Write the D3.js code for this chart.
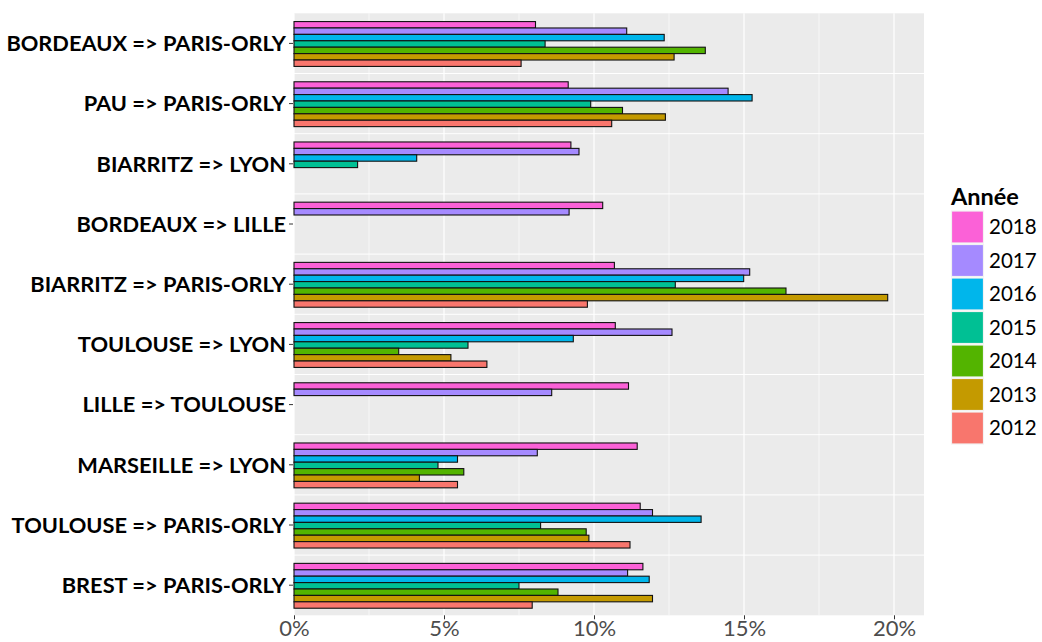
<!DOCTYPE html>
<html>
<head>
<meta charset="utf-8">
<script src="https://cdn.jsdelivr.net/npm/d3@7/dist/d3.min.js"></script>
<style>
  html, body { margin: 0; padding: 0; background: #fff; }
  svg { display: block; }
</style>
</head>
<body>
<svg id="chart" width="1042" height="642"></svg>
<script>
// ---- Data ----
const categories = [
  "BORDEAUX => PARIS-ORLY", "PAU => PARIS-ORLY", "BIARRITZ => LYON",
  "BORDEAUX => LILLE", "BIARRITZ => PARIS-ORLY", "TOULOUSE => LYON",
  "LILLE => TOULOUSE", "MARSEILLE => LYON", "TOULOUSE => PARIS-ORLY",
  "BREST => PARIS-ORLY"
];
const years = ["2018", "2017", "2016", "2015", "2014", "2013", "2012"];
const v2018 = [8.05, 9.14, 9.23, 10.29, 10.68, 10.71, 11.15, 11.44, 11.54, 11.63];
const v2017 = [11.09, 14.47, 9.50, 9.17, 15.19, 12.60, 8.59, 8.11, 11.95, 11.12];
const v2016 = [12.34, 15.27, 4.09, null, 14.99, 9.31, null, 5.45, 13.57, 11.84];
const v2015 = [8.37, 9.89, 2.12, null, 12.71, 5.80, null, 4.80, 8.22, 7.50];
const v2014 = [13.71, 10.95, null, null, 16.40, 3.49, null, 5.66, 9.74, 8.80];
const v2013 = [12.67, 12.38, null, null, 19.79, 5.23, null, 4.18, 9.83, 11.95];
const v2012 = [7.57, 10.59, null, null, 9.78, 6.43, null, 5.45, 11.20, 7.94];
const xTicks = [0, 5, 10, 15, 20];
const xMinor = [2.5, 7.5, 12.5, 17.5];
const legendTitle = "Année";

const seriesByYear = { "2018": v2018, "2017": v2017, "2016": v2016, "2015": v2015,
                       "2014": v2014, "2013": v2013, "2012": v2012 };
const colors = { "2018": "#FB61D7", "2017": "#A58AFF", "2016": "#00B6EB", "2015": "#00C094",
                 "2014": "#53B400", "2013": "#C49A00", "2012": "#F8766D" };

const rows = [];
categories.forEach((c, i) => {
  years.forEach(y => {
    const v = seriesByYear[y][i];
    if (v != null) rows.push({ cat: c, year: y, value: v });
  });
});

// ---- Layout ----
const svg = d3.select("#chart");
const panel = { left: 294, right: 924, top: 13.3, bottom: 615.3 };

const x = d3.scaleLinear().domain([0, 21]).range([panel.left, panel.right]);
const y = d3.scaleBand().domain(categories).range([panel.top, panel.bottom]).padding(0);
const groupW = y.bandwidth() * 0.745;
const yInner = d3.scaleBand().domain(years).range([0, groupW]).padding(0);

// panel background
svg.append("rect")
  .attr("x", panel.left).attr("y", panel.top)
  .attr("width", panel.right - panel.left).attr("height", panel.bottom - panel.top)
  .attr("fill", "#EBEBEB");

// minor vertical grid
svg.append("g").selectAll("line").data(xMinor).join("line")
  .attr("x1", d => x(d)).attr("x2", d => x(d))
  .attr("y1", panel.top).attr("y2", panel.bottom)
  .attr("stroke", "#fff").attr("stroke-width", 0.6);

// major vertical grid
svg.append("g").selectAll("line").data(xTicks).join("line")
  .attr("x1", d => x(d)).attr("x2", d => x(d))
  .attr("y1", panel.top).attr("y2", panel.bottom)
  .attr("stroke", "#fff").attr("stroke-width", 1.2);

// horizontal lines between categories
svg.append("g").selectAll("line").data(categories.slice(1)).join("line")
  .attr("x1", panel.left).attr("x2", panel.right)
  .attr("y1", d => y(d)).attr("y2", d => y(d))
  .attr("stroke", "#fff").attr("stroke-width", 1);

// bars
const offset = (y.bandwidth() - groupW) / 2 + 0.6;
svg.append("g").selectAll("rect").data(rows).join("rect")
  .attr("x", x(0))
  .attr("y", d => y(d.cat) + offset + yInner(d.year))
  .attr("width", d => x(d.value) - x(0))
  .attr("height", yInner.bandwidth())
  .attr("fill", d => colors[d.year])
  .attr("stroke", "#111").attr("stroke-width", 1.1);

// y axis
const yAxis = d3.axisLeft(y).tickSize(4).tickPadding(3);
const gy = svg.append("g").attr("transform", `translate(${panel.left - 1},0)`).call(yAxis);
gy.select(".domain").remove();
gy.selectAll(".tick line").attr("stroke", "#333").attr("stroke-width", 1);
gy.selectAll(".tick text")
  .attr("fill", "#000")
  .attr("dy", "0.36em")
  .style("font-family", "Lato, 'Open Sans', sans-serif")
  .style("font-weight", "bold")
  .style("font-size", "21.8px");

// x axis
const xAxis = d3.axisBottom(x).tickValues(xTicks).tickFormat(d => d + "%").tickSize(4).tickPadding(1);
const gx = svg.append("g").attr("transform", `translate(0,${panel.bottom})`).call(xAxis);
gx.select(".domain").remove();
gx.selectAll(".tick line").attr("stroke", "#333").attr("stroke-width", 1);
gx.selectAll(".tick text")
  .attr("fill", "#4D4D4D")
  .style("font-family", "Lato, 'Open Sans', sans-serif")
  .style("font-size", "22px");

// legend
const lg = svg.append("g").attr("transform", "translate(951,0)");
lg.append("text")
  .attr("x", 0).attr("y", 205)
  .style("font-family", "Lato, 'Open Sans', sans-serif")
  .style("font-weight", "bold").style("font-size", "23.5px")
  .attr("fill", "#000")
  .text(legendTitle);
const keyH = 33.5;
const items = lg.selectAll("g.item").data(years).join("g")
  .attr("class", "item")
  .attr("transform", (d, i) => `translate(0,${210.5 + i * keyH})`);
items.append("rect")
  .attr("x", 0.5).attr("y", 0.5).attr("width", 32).attr("height", 32)
  .attr("fill", d => colors[d]).attr("stroke", "#F2F2F2").attr("stroke-width", 1.2);
items.append("text")
  .attr("x", 38).attr("y", 16.5).attr("dy", "0.36em")
  .style("font-family", "Lato, 'Open Sans', sans-serif")
  .style("font-size", "20.5px")
  .attr("fill", "#000")
  .text(d => d);
</script>
</body>
</html>
